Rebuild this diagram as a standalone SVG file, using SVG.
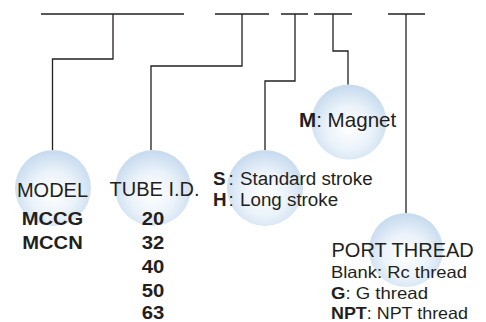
<svg xmlns="http://www.w3.org/2000/svg" width="486" height="322" viewBox="0 0 486 322">
<defs>
<radialGradient id="bub" cx="50%" cy="58%" r="55%">
<stop offset="0" stop-color="#ffffff"/>
<stop offset="0.55" stop-color="#eaf2fa"/>
<stop offset="1" stop-color="#c9dcef"/>
</radialGradient>
<style>
.ln{fill:none;stroke:#231f20;stroke-width:1.3}
.bub{fill:url(#bub)}
text{font-family:"Liberation Sans",Arial,sans-serif;fill:#231f20}
.h{font-size:20px}
.b{font-weight:bold}
.s{font-size:16.5px}
.n{font-size:17.8px;font-weight:bold;text-anchor:middle}
.st{font-size:18.8px}
.m{text-anchor:middle}
</style>
</defs>
<rect width="486" height="322" fill="#ffffff"/>
<g id="bubbles">
<circle class="bub" cx="53" cy="188" r="38"/>
<circle class="bub" cx="153" cy="188" r="38"/>
<circle class="bub" cx="265" cy="188" r="38"/>
<circle class="bub" cx="349" cy="122" r="37.5"/>
<circle class="bub" cx="406" cy="250" r="37"/>
</g>
<g id="connectors">
<path class="ln" d="M41,14H184M215,14H269M281,14H308M314,14H352M388,14H425"/>
<path class="ln" d="M113,14V59H52.5V150"/>
<path class="ln" d="M242,14V66H151V150"/>
<path class="ln" d="M295,14V81H265V150"/>
<path class="ln" d="M333,14V51H348V84.5"/>
<path class="ln" d="M406,14V213"/>
</g>
<g id="model">
<text class="h m" x="52.5" y="196.5">MODEL</text>
<text class="n" x="52.5" y="225" textLength="61.5" lengthAdjust="spacingAndGlyphs">MCCG</text>
<text class="n" x="52.5" y="249" textLength="60.5" lengthAdjust="spacingAndGlyphs">MCCN</text>
</g>
<g id="tube">
<text class="h m" x="154.5" y="196">TUBE I.D.</text>
<text class="n" x="153" y="225" textLength="22.6" lengthAdjust="spacingAndGlyphs">20</text>
<text class="n" x="153" y="249" textLength="22.6" lengthAdjust="spacingAndGlyphs">32</text>
<text class="n" x="153" y="273" textLength="22.6" lengthAdjust="spacingAndGlyphs">40</text>
<text class="n" x="153" y="297" textLength="22.6" lengthAdjust="spacingAndGlyphs">50</text>
<text class="n" x="153" y="319" textLength="22.6" lengthAdjust="spacingAndGlyphs">63</text>
</g>
<g id="stroke">
<text class="st" x="213" y="184.5"><tspan class="b">S</tspan><tspan x="228.5">:</tspan><tspan x="240">Standard stroke</tspan></text>
<text class="st" x="213" y="205.5"><tspan class="b">H</tspan><tspan x="228.5">:</tspan><tspan x="240">Long stroke</tspan></text>
</g>
<g id="magnet">
<text class="h" x="299" y="126.5" style="font-size:20.6px"><tspan class="b">M</tspan>: Magnet</text>
</g>
<g id="port">
<text class="h" x="331.5" y="257">PORT THREAD</text>
<text class="s" x="331" y="278" textLength="136" lengthAdjust="spacingAndGlyphs">Blank: Rc thread</text>
<text class="s" x="331" y="298.5" textLength="97" lengthAdjust="spacingAndGlyphs"><tspan class="b">G</tspan>: G thread</text>
<text class="s" x="331" y="318.5" textLength="137" lengthAdjust="spacingAndGlyphs"><tspan class="b">NPT</tspan>: NPT thread</text>
</g>
</svg>
